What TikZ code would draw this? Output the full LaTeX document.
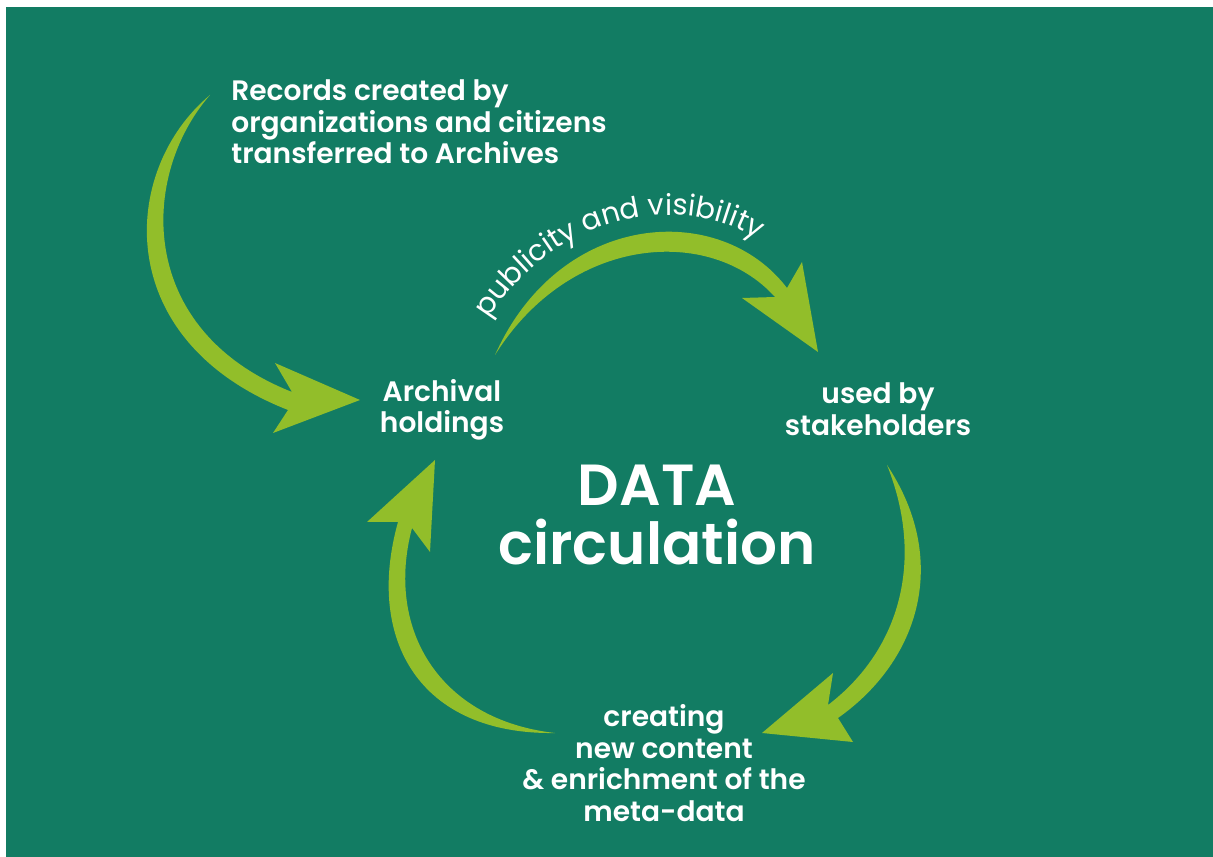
\documentclass[tikz,border=0pt]{standalone}
\usepackage{fontspec}
\newfontfamily\semibold{Poppins SemiBold}
\newfontfamily\lightfont{Poppins}
\usetikzlibrary{decorations.text}
\definecolor{bggreen}{HTML}{127C63}
\definecolor{arrowgreen}{HTML}{92BE2A}

\begin{document}
\begin{tikzpicture}[x=0.02cm,y=-0.02cm,
  lbl/.style={text=white,inner sep=0pt,font=\semibold\fontsize{16}{18}\selectfont,align=center},
  big/.style={text=white,inner sep=0pt,font=\semibold\fontsize{33}{34}\selectfont,align=center},
  swoosh/.style={fill=arrowgreen,draw=none}]
\useasboundingbox (0,0) rectangle (1213,857);
\fill[white] (0,0) rectangle (1213,857);
\fill[bggreen] (6,7) rectangle (1213,857);

\node[lbl,anchor=west,align=left] (records) at (231,122) {Records created by\\organizations and citizens\\transferred to Archives};
\node[lbl] (archival) at (442,410) {Archival\\holdings};
\node[lbl] (used) at (878,409) {used by\\stakeholders};
\node[big] (data) at (657,515) {DATA\\circulation};
\node[lbl] (creating) at (664,763) {creating\\new content\\\& enrichment of the\\meta-data};

\fill[swoosh] (210,95) .. controls (120,170) and (110,340) .. (288,410) -- (273,433) -- (360,400) -- (275,363) -- (292,392) .. controls (135,330) and (140,175) .. (210,95) -- cycle;
\fill[swoosh] (495,355) .. controls (560,210) and (720,200) .. (787,288) -- (802,262) -- (818,352) -- (742,298) -- (775,297) .. controls (710,225) and (570,235) .. (495,355) -- cycle;
\fill[swoosh] (887,465) .. controls (950,560) and (920,660) .. (838,718) -- (853,742) -- (762,733) -- (833,673) -- (828,705) .. controls (900,650) and (925,560) .. (887,465) -- cycle;
\fill[swoosh] (555,733) .. controls (420,735) and (365,640) .. (398,522) -- (367,522) -- (435,460) -- (430,552) -- (412,528) .. controls (385,630) and (440,720) .. (555,733) -- cycle;

\path[decorate,decoration={text along path,text align=center,
  text={|\lightfont\fontsize{16.5}{18}\selectfont\color{white}|publicity and visibility}}]
  (472,350) .. controls (540,200) and (712,182) .. (785,262);
\end{tikzpicture}
\end{document}
